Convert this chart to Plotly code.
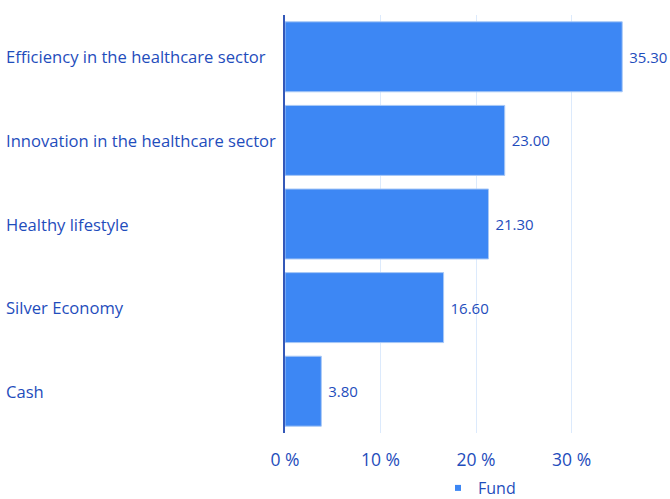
import plotly.graph_objects as go

categories = ["Efficiency in the healthcare sector", "Innovation in the healthcare sector",
              "Healthy lifestyle", "Silver Economy", "Cash"]
values = [35.30, 23.00, 21.30, 16.60, 3.80]
tick_vals = [0, 10, 20, 30]
tick_text = ["0 %", "10 %", "20 %", "30 %"]
series_name = "Fund"

W, H = 670, 499
ml, mr, mt, mb = 285, 0, 15, 66
TXT = "#1f4dbc"
FONT = "Open Sans, Noto Sans, sans-serif"
BAR = "#3d87f4"

fig = go.Figure()
fig.add_trace(go.Bar(
    y=categories, x=values, orientation="h", name=series_name,
    marker=dict(color=BAR, line=dict(color="#a8c8f6", width=1)),
    texttemplate=" %{x:.2f}", textposition="outside",
    textfont=dict(color=TXT, size=15, family=FONT),
    cliponaxis=False, showlegend=False,
))
# legend entry with a small square symbol
fig.add_trace(go.Scatter(
    x=[None], y=[None], mode="markers", name=series_name,
    marker=dict(symbol="square", size=6, color=BAR), showlegend=True,
))

pw = W - ml - mr
for c in categories:
    fig.add_annotation(x=-(ml - 4) / pw, xref="paper", y=c, yref="y",
                       text=c, showarrow=False, xanchor="left",
                       font=dict(color=TXT, size=16.6, family=FONT))

fig.update_layout(
    width=W, height=H, margin=dict(l=ml, r=mr, t=mt, b=mb, autoexpand=False),
    plot_bgcolor="white", paper_bgcolor="white",
    bargap=0.163,
    font=dict(family=FONT, color=TXT),
    xaxis=dict(range=[0, 40.3], tickvals=tick_vals, ticktext=tick_text,
               showgrid=True, gridcolor="#dceafc", gridwidth=1, zeroline=False,
               tickfont=dict(size=17.5, color=TXT, family=FONT),
               ticks="outside", ticklen=11, tickcolor="rgba(0,0,0,0)",
               showline=False, fixedrange=True),
    yaxis=dict(categoryorder="array", categoryarray=categories[::-1],
               showticklabels=False, showgrid=False, zeroline=False,
               showline=True, linecolor="#3458b8", linewidth=1.5),
    legend=dict(orientation="h", xref="container", yref="container",
                x=438 / W, xanchor="left", y=11 / H, yanchor="middle",
                font=dict(size=16, color=TXT, family=FONT),
                itemwidth=30),
)

fig.write_html("out.html", config={"displayModeBar": False},
               post_script="document.body.style.margin='0';document.body.style.overflow='hidden';")
